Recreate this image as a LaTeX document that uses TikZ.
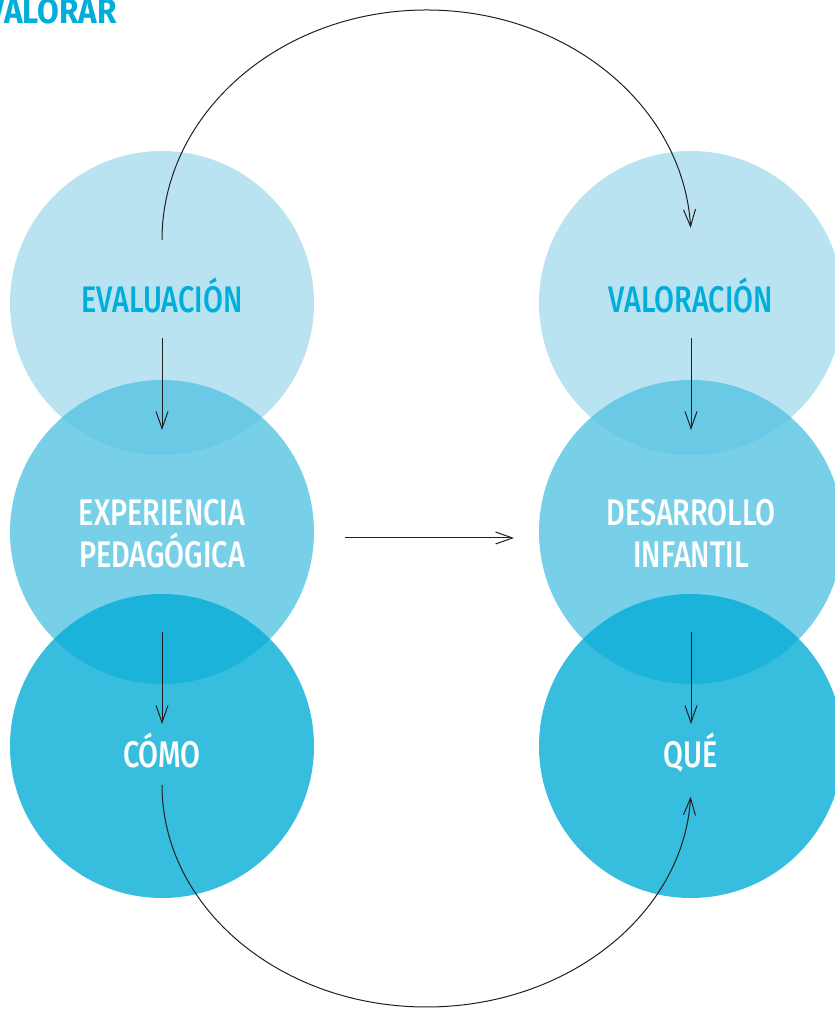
\documentclass[tikz,border=0pt]{standalone}
\usepackage{fontspec}
\setmainfont{Fira Sans Medium}[FakeStretch=0.78]
\newfontfamily\titlefont{Fira Sans Bold}[FakeStretch=0.9]
\usetikzlibrary{arrows.meta,calc}
\definecolor{TopClr}{RGB}{186,227,241}
\definecolor{MidClr}{RGB}{86,196,226}
\definecolor{LowClr}{RGB}{5,172,213}
\definecolor{TextClr}{RGB}{0,174,219}
\definecolor{ArrowClr}{RGB}{35,31,32}

\begin{document}
\begin{tikzpicture}[x=1pt,y=1pt,
  circ/.style={circle,minimum size=304pt,inner sep=0pt},
  lbl/.style={anchor=base,align=center,inner sep=0pt,font=\fontsize{37}{42}\selectfont},
  arr/.style={draw=ArrowClr,line width=1pt,-{Straight Barb[length=17pt,width=12pt]}}]
\useasboundingbox (0,0) rectangle (835,1009);

\node[circ,fill=TopClr] (ev) at (162,706) {};
\node[circ,fill=TopClr] (va) at (691,706) {};
\node[circ,fill=MidClr,fill opacity=.8] (ex) at (162,477) {};
\node[circ,fill=MidClr,fill opacity=.8] (de) at (691,477) {};
\node[circ,fill=LowClr,fill opacity=.8] (co) at (162,263) {};
\node[circ,fill=LowClr,fill opacity=.8] (qu) at (691,263) {};

\node[lbl,text=TextClr] (evT) at ([yshift=-10]ev.center) {EVALUACIÓN};
\node[lbl,text=TextClr] (vaT) at ([yshift=-10]va.center) {VALORACIÓN};
\node[lbl,text=white] (exT) at ([yshift=-36]ex.center) {EXPERIENCIA\\PEDAGÓGICA};
\node[lbl,text=white] (deT) at ([yshift=-36]de.center) {DESARROLLO\\INFANTIL};
\node[lbl,text=white] (coT) at ([yshift=-22]co.center) {CÓMO};
\node[lbl,text=white] (quT) at ([yshift=-22]qu.center) {QUÉ};

\node[anchor=base east,inner sep=0pt,text=TextClr,font=\titlefont\fontsize{35}{35}\selectfont] (title) at (117,985) {VALORAR};

\draw[arr] ([yshift=-35]ev.center) -- ([yshift=102]ex.center);
\draw[arr] ([yshift=-100]ex.center) -- ([yshift=22]co.center);
\draw[arr] ([yshift=-35]va.center) -- ([yshift=102]de.center);
\draw[arr] ([yshift=-100]de.center) -- ([yshift=22]qu.center);
\draw[arr] ([shift={(183,-6)}]ex.center) -- ([shift={(-177,-6)}]de.center);

\draw[arr] ([yshift=63]ev.center) arc[start angle=180,end angle=3,x radius=264.5,y radius=230];
\draw[arr] ([yshift=-39]co.center) arc[start angle=180,end angle=357,x radius=264.5,y radius=222];
\end{tikzpicture}
\end{document}
